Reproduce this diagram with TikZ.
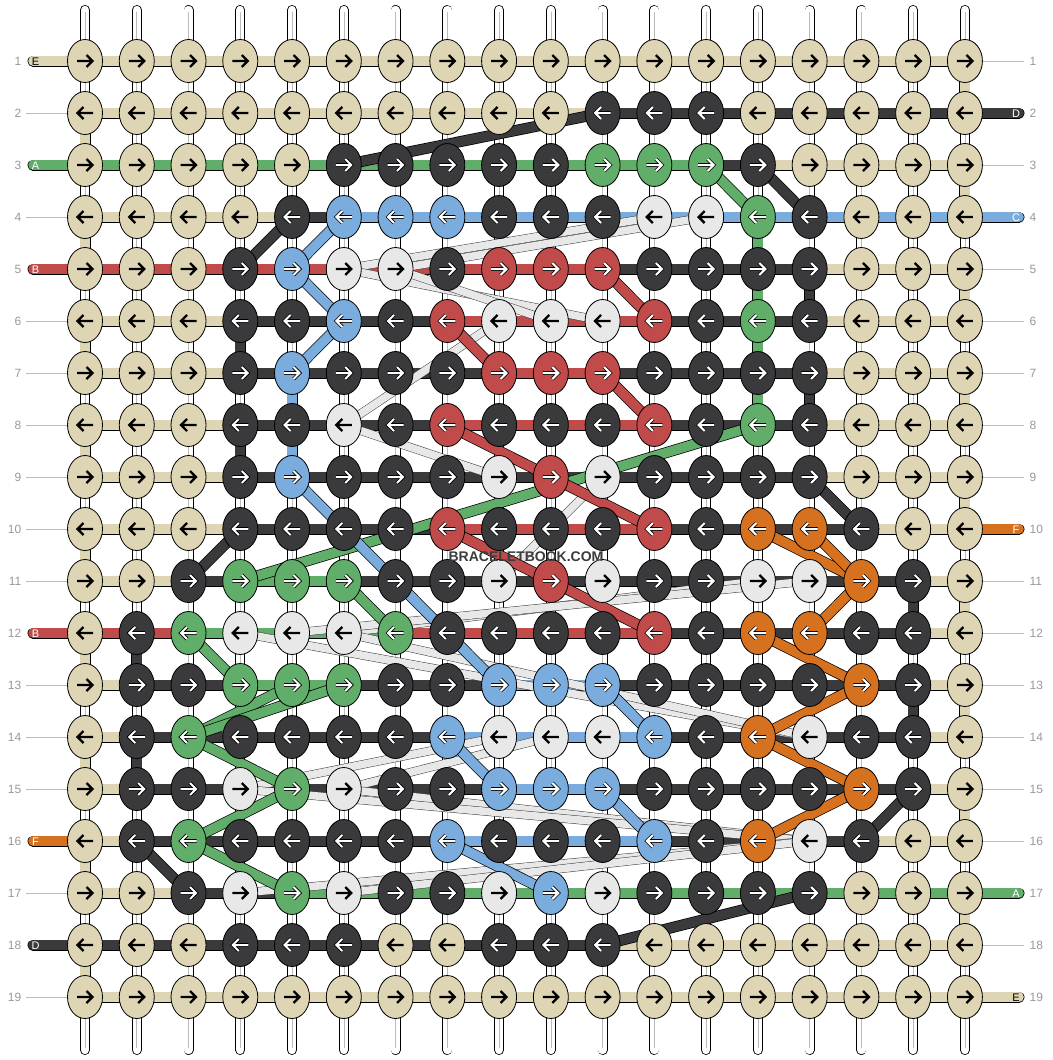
\documentclass[tikz,border=0pt]{standalone}
\usepackage{fontspec}
\setmainfont{Liberation Sans}
\usetikzlibrary{shapes.geometric}
\definecolor{colK}{HTML}{DDD5B3}
\definecolor{colD}{HTML}{3A393B}
\definecolor{colG}{HTML}{60AE69}
\definecolor{colB}{HTML}{7AACDD}
\definecolor{colR}{HTML}{C04B4A}
\definecolor{colO}{HTML}{D6711F}
\definecolor{colW}{HTML}{E8E8E8}
\definecolor{labgray}{HTML}{999999}
\definecolor{lineg}{HTML}{BBBBBB}
\definecolor{wmc}{HTML}{3C3C3C}
\pgfdeclarelayer{back}
\pgfdeclarelayer{bg}
\pgfsetlayers{back,bg,main}

\def\mygobble#1{}
\def\myfirst#1{#1}
\newcommand\placeknot[3]{%
  \pgfmathsetmacro\px{85+(#2-1)*51.76}%
  \pgfmathsetmacro\py{61+(#1-1)*52}%
  \ifodd#1\relax\def\dir{1}\else\def\dir{-1}\fi
  \node[knot,fill=col#3] (k#1-#2) at (\px,\py) {};
  \begin{scope}[shift={(\px,\py)},xscale=\dir]
    \path[ul#3] (-8,0) -- (7,0) (1.5,-6) -- (7.5,0) -- (1.5,6);
    \path[ar#3] (-8,0) -- (7,0) (1.5,-6) -- (7.5,0) -- (1.5,6);
  \end{scope}}
\newcommand\knotrow[2]{\def\kr{#1}\def\kc{0}\knotloop#2\relax}
\def\knotloop#1{\ifx#1\relax\expandafter\mygobble\else\expandafter\myfirst\fi
  {\pgfmathtruncatemacro\kc{\kc+1}\placeknot{\kr}{\kc}{#1}\knotloop}}
\newcommand\segrow[2]{\def\kr{#1}\def\kc{0}\segloop#2\relax}
\def\segloop#1{\ifx#1\relax\expandafter\mygobble\else\expandafter\myfirst\fi
  {\pgfmathtruncatemacro\kc{\kc+1}\pgfmathtruncatemacro\kn{\kc+1}%
   \draw[thr=col#1] (k\kr-\kc.center) -- (k\kr-\kn.center);\segloop}}
\newcommand\vgap[3]{\pgfmathtruncatemacro\rn{#2+1}%
  \draw[thr=col#3] (k#2-#1.center) -- (k\rn-#1.center);}
\newcommand\dg[5]{\draw[thr=col#5] (k#1-#2.center) -- (k#3-#4.center);}
\newcommand\wb[4]{\draw[wband] (k#1-#2.center) -- (k#3-#4.center);}
\newcommand\tagL[4]{\pgfmathsetmacro\py{61+(#1-1)*52}%
  \coordinate (tl#1) at (33,\py);
  \draw[thr=col#3,line cap=round] (k#1-1.center) -- (tl#1);
  \node[tagtxt,text=#4] (tlt#1) at (35.5,\py+4) {#2};}
\newcommand\tagR[4]{\pgfmathsetmacro\py{61+(#1-1)*52}%
  \coordinate (tr#1) at (1019,\py);
  \draw[thr=col#3,line cap=round] (k#1-18.center) -- (tr#1);
  \node[tagtxt,text=#4] (trt#1) at (1016,\py+4) {#2};}
\newcommand\lineL[1]{\pgfmathsetmacro\py{61+(#1-1)*52}%
  \coordinate (ll#1) at (26,\py);
  \draw[lineg,line width=1pt] (ll#1) -- (k#1-1.center);}
\newcommand\lineR[1]{\pgfmathsetmacro\py{61+(#1-1)*52}%
  \coordinate (lr#1) at (1024,\py);
  \draw[lineg,line width=1pt] (k#1-18.center) -- (lr#1);}

\begin{document}
\begin{tikzpicture}[x=1pt,y=-1pt,
  knot/.style={ellipse,draw=black,line width=0.8pt,minimum width=35pt,minimum height=43pt,inner sep=0pt},
  thr/.style={draw=black,line width=0.7pt,double=#1,double distance=9.6pt},
  wband/.style={draw=black!75,line width=0.5pt,double=colW,double distance=7.6pt},
  strand/.style={draw=black,line width=0.8pt,double=white,double distance=8.4pt,line cap=round},
  ulK/.style={},ulW/.style={},
  ulD/.style={draw=black,line width=3.6pt,line join=miter},
  ulG/.style={ulD},ulB/.style={ulD},ulR/.style={ulD},ulO/.style={ulD},
  arK/.style={draw=black,line width=2.3pt,line join=miter},arW/.style={arK},
  arD/.style={draw=white,line width=2pt,line join=miter},
  arG/.style={arD},arB/.style={arD},arR/.style={arD},arO/.style={arD},
  tagtxt/.style={anchor=base,inner sep=0pt,font=\fontsize{11}{11}\selectfont},
  numtxt/.style={inner sep=0pt,text=labgray,font=\fontsize{12}{12}\selectfont},
  wmtxt/.style={anchor=base,inner sep=0pt,font=\fontsize{14}{14}\bfseries\selectfont}]
\useasboundingbox (0,0) rectangle (1052,1060);
\begin{pgfonlayer}{back}
\fill[white] (0,0) rectangle (1052,1060);
\end{pgfonlayer}

% knots
\knotrow{1}{KKKKKKKKKKKKKKKKKK}
\knotrow{2}{KKKKKKKKKKDDDKKKKK}
\knotrow{3}{KKKKKDDDDDGGGDKKKK}
\knotrow{4}{KKKKDBBBDDDWWGDKKK}
\knotrow{5}{KKKDBWWDRRRDDDDKKK}
\knotrow{6}{KKKDDBDRWWWRDGDKKK}
\knotrow{7}{KKKDBDDDRRRDDDDKKK}
\knotrow{8}{KKKDDWDRDDDRDGDKKK}
\knotrow{9}{KKKDBDDDWRWDDDDKKK}
\knotrow{10}{KKKDDDDRDDDRDOODKK}
\knotrow{11}{KKDGGGDDWRWDDWWODK}
\knotrow{12}{KDGWWWGDDDDRDOODDK}
\knotrow{13}{KDDGGGDDBBBDDDDODK}
\knotrow{14}{KDGDDDDBWWWBDOWDDK}
\knotrow{15}{KDDWGWDDBBBDDDDODK}
\knotrow{16}{KDGDDDDBDDDBDOWDKK}
\knotrow{17}{KKDWGWDDWBWDDDDKKK}
\knotrow{18}{KKKDDDKKDDDKKKKKKK}
\knotrow{19}{KKKKKKKKKKKKKKKKKK}

\begin{pgfonlayer}{bg}
% base strands
\foreach \c in {1,...,18}{
  \pgfmathsetmacro\px{85+(\c-1)*51.76}
  \coordinate (st\c) at (\px,10);
  \coordinate (sb\c) at (\px,1050);
  \draw[strand] (st\c) -- (sb\c);
  \draw[lineg,line width=0.6pt,shorten <=2pt,shorten >=2pt] (st\c) -- (sb\c);
}
% label lines
\foreach \r in {2,4,6,7,8,9,10,11,13,14,15,17,19}{\lineL{\r}}
\foreach \r in {1,3,5,6,7,8,9,11,12,13,14,15,16,18}{\lineR{\r}}
% coloured vertical gaps
\foreach \r in {2,4,6,8,10,12,14,16,18}{\vgap{1}{\r}{K}}
\foreach \r in {1,3,5,7,9,11,13,15,17}{\vgap{18}{\r}{K}}
\foreach \r in {4,5,6,7}{\vgap{14}{\r}{G}}
\vgap{5}{7}{B}\vgap{5}{8}{B}
\vgap{4}{6}{D}\vgap{4}{8}{D}
\vgap{15}{5}{D}\vgap{15}{7}{D}
\vgap{17}{11}{D}\vgap{17}{13}{D}
\vgap{2}{12}{D}\vgap{2}{14}{D}
% horizontal threads
\segrow{1}{KKKKKKKKKKKKKKKKK}
\segrow{2}{KKKKKKKKKKDDDDDDD}
\segrow{3}{GGGGGGGGGGGGDKKKK}
\segrow{4}{KKKKDBBBBBBBBBBBB}
\segrow{5}{RRRRRRRRRRDDDDKKK}
\segrow{6}{KKKDDDDRRRRDDDKKK}
\segrow{7}{KKKDDDDDRRDDDDKKK}
\segrow{8}{KKKDDDDRRRRDDDKKK}
\segrow{9}{KKKDDDDDDDDDDDKKK}
\segrow{10}{KKKDDDDRRRRDDDDKK}
\segrow{11}{KKDGGDDDDDDDDDDDK}
\segrow{12}{RRGGGGRRRRRDDDDDK}
\segrow{13}{KDDGGDDDBBDDDDDDK}
\segrow{14}{KDDDDDDBBBBDDDDDK}
\segrow{15}{KDDDDDDDBBDDDDDDK}
\segrow{16}{KDDDDDDBBBBDDDDKK}
\segrow{17}{KKDDGGGGGGGGGGGGG}
\segrow{18}{DDDDDDDDDDKKKKKKK}
\segrow{19}{KKKKKKKKKKKKKKKKK}
% tags
\tagL{1}{E}{K}{black}
\tagL{3}{A}{G}{white}
\tagL{5}{B}{R}{white}
\tagL{12}{B}{R}{white}
\tagL{16}{F}{O}{white}
\tagL{18}{D}{D}{white}
\tagR{2}{D}{D}{white}
\tagR{4}{C}{B}{white}
\tagR{10}{F}{O}{white}
\tagR{17}{A}{G}{white}
\tagR{19}{E}{K}{black}
% light floats
\wb{4}{12}{5}{6}\wb{4}{13}{5}{7}\wb{5}{6}{6}{11}\wb{5}{7}{6}{10}
\wb{6}{9}{8}{6}\wb{8}{6}{9}{9}\wb{9}{11}{11}{9}
\wb{11}{14}{12}{6}\wb{11}{15}{12}{5}
\wb{12}{4}{14}{15}\wb{12}{6}{14}{15}
\wb{14}{9}{15}{4}\wb{14}{10}{15}{6}
\wb{15}{6}{16}{15}\wb{15}{4}{16}{15}
\wb{16}{15}{17}{4}\wb{16}{15}{17}{6}
% coloured floats
\dg{3}{6}{2}{11}{D}\dg{3}{14}{4}{15}{D}\dg{4}{5}{5}{4}{D}\dg{9}{15}{10}{16}{D}
\dg{10}{4}{11}{3}{D}\dg{15}{17}{16}{16}{D}\dg{16}{2}{17}{3}{D}\dg{18}{11}{17}{15}{D}
\dg{3}{13}{4}{14}{G}\dg{8}{14}{11}{4}{G}\dg{11}{6}{12}{7}{G}\dg{12}{3}{13}{4}{G}
\dg{14}{3}{13}{5}{G}\dg{14}{3}{13}{6}{G}\dg{14}{3}{15}{5}{G}\dg{16}{3}{15}{5}{G}\dg{16}{3}{17}{5}{G}
\dg{4}{6}{5}{5}{B}\dg{5}{5}{6}{6}{B}\dg{6}{6}{7}{5}{B}\dg{9}{5}{13}{9}{B}
\dg{13}{11}{14}{12}{B}\dg{14}{8}{15}{9}{B}\dg{15}{11}{16}{12}{B}\dg{16}{8}{17}{10}{B}
\dg{5}{11}{6}{12}{R}\dg{6}{8}{7}{9}{R}\dg{7}{11}{8}{12}{R}\dg{8}{8}{9}{10}{R}
\dg{9}{10}{10}{12}{R}\dg{10}{8}{11}{10}{R}\dg{11}{10}{12}{12}{R}
\dg{10}{14}{11}{16}{O}\dg{10}{15}{11}{16}{O}\dg{11}{16}{12}{15}{O}\dg{12}{14}{13}{16}{O}
\dg{13}{16}{14}{14}{O}\dg{14}{14}{15}{16}{O}\dg{15}{16}{16}{14}{O}
\end{pgfonlayer}

% row numbers
\foreach \r in {1,...,19}{
  \pgfmathsetmacro\py{61+(\r-1)*52+4.3}
  \node[numtxt,anchor=base east] (nl\r) at (21.5,\py) {\r};
  \node[numtxt,anchor=base west] (nr\r) at (1029.5,\py) {\r};
}
% watermark
\node[wmtxt,text=wmc] (wm) at (526,561.5) {BRACELETBOOK.COM};
\end{tikzpicture}
\end{document}
